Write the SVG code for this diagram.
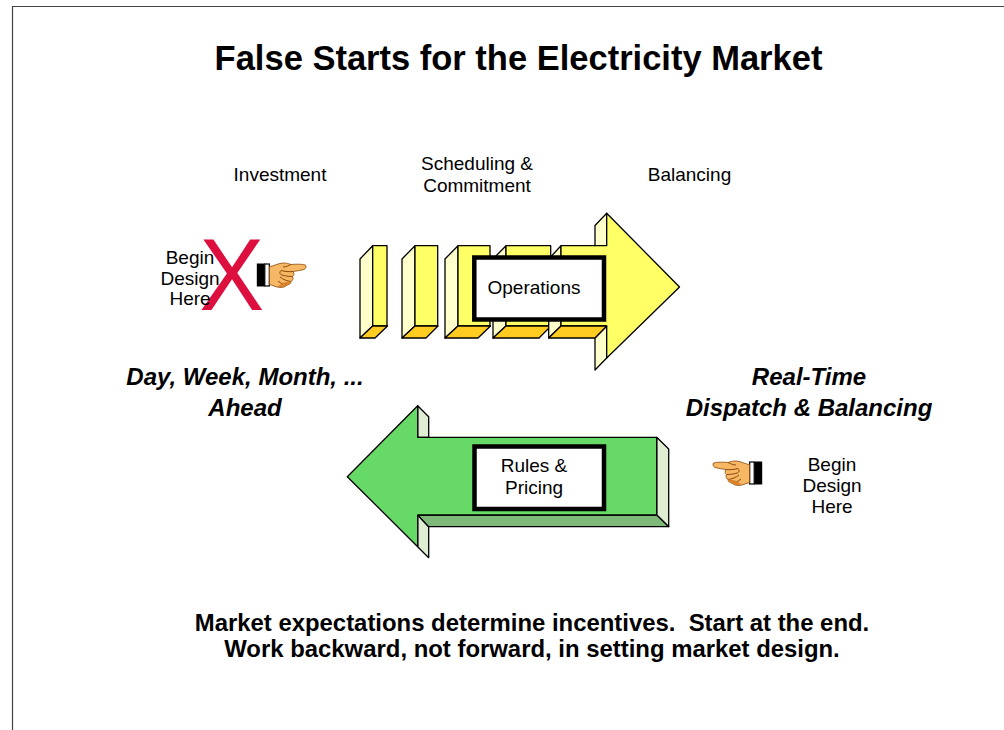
<svg xmlns="http://www.w3.org/2000/svg" width="1004" height="730" viewBox="0 0 1004 730">
<style>
text{font-family:"Liberation Sans",Arial,sans-serif;fill:#000;text-anchor:middle;white-space:pre}
.l{font-size:19px}
.b{font-size:23.900px;font-weight:bold}
.i{font-size:24px;font-weight:bold;font-style:italic}
.s{stroke:#000;stroke-width:1.3;stroke-linejoin:round}
.yf{fill:#ffff66}.yl{fill:#ffffcc}.yb{fill:#ffcc22}
.gf{fill:#66d966}.gl{fill:#dfeed3}.gb{fill:#7fb97a}
.box{fill:#fff;stroke:#000;stroke-width:4.5}
.c{stroke:#8a4a0c;stroke-width:.8;fill:#f7b866}
</style>
<defs>
<g id="hand">
<rect x="0.800" y="1" width="8" height="23" fill="#000"/>
<rect x="8.800" y="1.500" width="4.500" height="22" fill="#fff" stroke="#000" stroke-width="1.200"/>
<path class="c" d="M13.500 4C17 4 21 1 27 0.500C31 0.300 33 1.500 35 2C40 1.500 46 1.500 49.500 2.500C50.500 4 50 6 48 7C44 8 41 8.500 37 9C38.500 11 38 13 36.500 14C37.500 16 37 18 35 19C35 21 33 22.500 31 22.500C29 25 25 25.500 21 24.500L13.500 22Z"/>
<path d="M35 2C33 3 30 4.500 27 4.500M37 9C33 9.500 29 9 25 8M25 8C23 10 24 12 26 12.500C29 13.500 33 14 36.500 14M24 14.500C27 17 31 18.500 35 19M22 18.500C25 21 28 22.500 31 22.500" fill="none" stroke="#8a4a0c" stroke-width="1"/>
<path d="M21 24C25 25 29 24.500 31 22.500C33 22.500 35 21 35 19L28 20Z" fill="#d9822b"/>
</g>
</defs>
<path d="M12.500 730V6.500H1004" fill="none" stroke="#444" stroke-width="1.200"/>
<text id="title" x="518.500" y="70" style="font-size:34.500px;font-weight:bold">False Starts for the Electricity Market</text>

<g id="labels">
<text class="l" x="280" y="181">Investment</text>
<text class="l" x="477" y="170">Scheduling &amp;</text>
<text class="l" x="477" y="192">Commitment</text>
<text class="l" x="689.500" y="181">Balancing</text>
</g>

<g id="begin-left">
<text x="231.700" y="310" style="font-size:102px;fill:#dc0f3e" textLength="65" lengthAdjust="spacingAndGlyphs">X</text>
<text class="l" x="190" y="264">Begin</text>
<text class="l" x="190" y="285">Design</text>
<text class="l" x="190" y="305">Here</text>
<use href="#hand" x="256" y="262.500"/>
</g>

<g id="bars">
<g class="s">
<path class="yl" d="M360 259L372.700 245.700V326L360 338Z"/>
<rect class="yf" x="372.700" y="245.700" width="14.300" height="80.300"/>
<path class="yb" d="M360 338H375L387.500 326H372.700Z"/>
<path class="yl" d="M402 259L415 245.700V326L402 338Z"/>
<rect class="yf" x="415" y="245.700" width="22.700" height="80.300"/>
<path class="yb" d="M402 338H426L438 326H415Z"/>
<path class="yl" d="M445 259L458 245.700V326L445 338Z"/>
<rect class="yf" x="458" y="245.700" width="32" height="80.300"/>
<path class="yb" d="M445 338H478L490.500 326H458Z"/>
<path class="yl" d="M493 259L506 245.700V326L493 338Z"/>
<rect class="yf" x="506" y="245.700" width="44.700" height="80.300"/>
<path class="yb" d="M493 338H539L551 326H506Z"/>
</g>
</g>

<g id="arrow-right" class="s">
<path class="yl" d="M548.700 259L561 245.700V326L548.700 338Z"/>
<path class="yl" d="M595 225.500L606.700 213.300V245.700H595Z"/>
<path class="yl" d="M595 338L606.700 326V358L595 370Z"/>
<path class="yf" d="M561 245.700H606.700V213.300L679.500 287L606.700 358V326H561Z"/>
<path class="yb" d="M548.700 338H595L606.700 326H561Z"/>
</g>
<g id="operations">
<rect class="box" x="474.300" y="257.500" width="129.700" height="62"/>
<text class="l" x="534" y="294">Operations</text>
</g>

<g id="arrow-left" class="s">
<path class="gl" d="M417.700 405.700L428.700 416.700V437.300H417.700Z"/>
<path class="gl" d="M417.700 515L428.700 526.700V557.700L417.700 546.700Z"/>
<path class="gl" d="M656.700 437.300L668.700 449V526.700L656.700 515Z"/>
<path class="gb" d="M417.700 515L428.700 526.700H668.700L656.700 515Z"/>
<path class="gf" d="M347.300 476.700L417.700 405.700V437.300H656.700V515H417.700V546.700Z"/>
</g>
<g id="rules">
<rect class="box" x="474.500" y="446.500" width="129.500" height="62.500"/>
<text class="l" x="534" y="472">Rules &amp;</text>
<text class="l" x="534" y="494">Pricing</text>
</g>

<g id="begin-right">
<use href="#hand" transform="translate(763 460.500) scale(-1 1)"/>
<text class="l" x="832" y="471">Begin</text>
<text class="l" x="832" y="492">Design</text>
<text class="l" x="832" y="513">Here</text>
</g>

<g id="notes">
<text class="i" x="245" y="385">Day, Week, Month, ...</text>
<text class="i" x="245" y="416">Ahead</text>
<text class="i" x="809" y="385">Real-Time</text>
<text class="i" x="809" y="416">Dispatch &amp; Balancing</text>
<text class="b" x="532" y="631" xml:space="preserve">Market expectations determine incentives.  Start at the end.</text>
<text class="b" x="532" y="657">Work backward, not forward, in setting market design.</text>
</g>
</svg>
